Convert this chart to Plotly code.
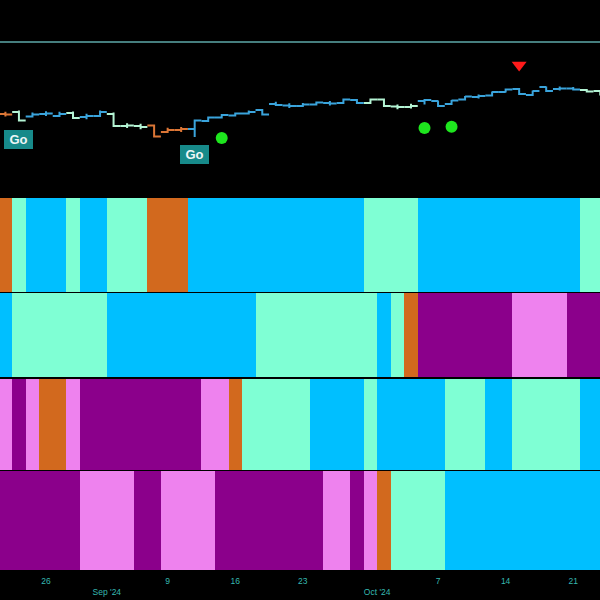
import plotly.graph_objects as go
from plotly.subplots import make_subplots

# ---------------- data ----------------
dates = [
    "2024-08-20", "2024-08-21", "2024-08-22", "2024-08-23",
    "2024-08-26", "2024-08-27", "2024-08-28", "2024-08-29", "2024-08-30",
    "2024-09-03", "2024-09-04", "2024-09-05", "2024-09-06",
    "2024-09-09", "2024-09-10", "2024-09-11", "2024-09-12", "2024-09-13",
    "2024-09-16", "2024-09-17", "2024-09-18", "2024-09-19", "2024-09-20",
    "2024-09-23", "2024-09-24", "2024-09-25", "2024-09-26", "2024-09-27",
    "2024-09-30", "2024-10-01", "2024-10-02", "2024-10-03", "2024-10-04",
    "2024-10-07", "2024-10-08", "2024-10-09", "2024-10-10", "2024-10-11",
    "2024-10-14", "2024-10-15", "2024-10-16", "2024-10-17", "2024-10-18",
    "2024-10-21", "2024-10-22", "2024-10-23",
]
opens = [5631, 5622, 5641, 5598, 5622, 5603, 5631, 5593, 5603,
         5622, 5508, 5508, 5513, 5451, 5470, 5479, 5555, 5589,
         5608, 5627, 5660, 5717, 5703, 5698, 5712, 5726, 5726, 5755,
         5726, 5760, 5693, 5688, 5745, 5745, 5717, 5760, 5783, 5798,
         5831, 5859, 5802, 5878, 5859, 5864, 5850, 5840]
highs = [5651, 5642, 5655, 5637, 5647, 5642, 5645, 5623, 5655,
         5636, 5533, 5528, 5522, 5490, 5499, 5569, 5598, 5622,
         5637, 5655, 5669, 5737, 5723, 5727, 5741, 5746, 5769, 5764,
         5769, 5769, 5713, 5718, 5765, 5750, 5755, 5793, 5808, 5836,
         5864, 5869, 5845, 5883, 5884, 5879, 5860, 5845]
lows = [5602, 5597, 5550, 5588, 5602, 5593, 5574, 5573, 5593,
        5498, 5488, 5478, 5398, 5441, 5450, 5403, 5546, 5579,
        5598, 5617, 5608, 5697, 5678, 5688, 5703, 5702, 5717, 5717,
        5717, 5688, 5668, 5674, 5712, 5688, 5707, 5750, 5768, 5788,
        5826, 5802, 5793, 5831, 5844, 5845, 5826, 5798]
closes = [5622, 5617, 5560, 5617, 5627, 5622, 5584, 5603, 5641,
          5508, 5513, 5498, 5408, 5470, 5479, 5560, 5589, 5612,
          5627, 5641, 5617, 5707, 5698, 5712, 5731, 5722, 5760, 5726,
          5760, 5698, 5688, 5698, 5755, 5698, 5750, 5788, 5793, 5831,
          5855, 5812, 5840, 5840, 5864, 5855, 5836, 5812]

# state codes: O=orange, A=aquamarine, B=blue, V=violet, P=purple
row1_states = list("OOABBBABBAAAOOOBBBBBBBBBBBBBAAAABBBBBBBBBBBBAA")
row2_states = list("BBAAAAAAABBBBBBBBBBBAAAAAAAAABAOPPPPPPPVVVVPPP")
row3_states = list("VVPVOOVPPPPPPPPPVVOAAAAABBBBABBBBBAAABBAAAAABB")
row4_states = list("PPPPPPPVVVVPPVVVVPPPPPPPPVVPVOAAAABBBBBBBBBBBB")

go_dates = ["2024-08-22", "2024-09-11"]
buy_dates = ["2024-09-13", "2024-10-04", "2024-10-08"]
buy_values = [5394, 5489, 5501]
sell_dates = ["2024-10-15"]
sell_values = [6087]

day_tick_dates = ["2024-08-26", "2024-09-09", "2024-09-16", "2024-09-23",
                  "2024-10-07", "2024-10-14", "2024-10-21"]
month_tick_dates = ["2024-09-03", "2024-10-01"]
month_tick_labels = ["Sep '24", "Oct '24"]

# ---------------- styling ----------------
band_colors = {"O": "#D2691E", "A": "#7FFFD4", "B": "#00BFFF",
               "V": "#EE82EE", "P": "#8B008B"}
bar_colors = {"O": "#dc7636", "A": "#b4f4d4", "B": "#3aa4dc"}
codes = {"O": 0, "A": 1, "B": 2, "V": 3, "P": 4}
order = ["O", "A", "B", "V", "P"]
colorscale = []
for k, s in enumerate(order):
    colorscale.append([k / 5, band_colors[s]])
    colorscale.append([(k + 1) / 5, band_colors[s]])

idx = list(range(len(dates)))
pos = {d: i for i, d in enumerate(dates)}

fig = make_subplots(rows=5, cols=1, shared_xaxes=True, vertical_spacing=0.0)

# OHLC bars, one trace per colour group
for s in ["O", "A", "B"]:
    sel = [i for i in idx if row1_states[i] == s]
    fig.add_trace(go.Ohlc(
        x=sel,
        open=[opens[i] for i in sel], high=[highs[i] for i in sel],
        low=[lows[i] for i in sel], close=[closes[i] for i in sel],
        increasing=dict(line=dict(color=bar_colors[s], width=2)),
        decreasing=dict(line=dict(color=bar_colors[s], width=2)),
        tickwidth=0.5, showlegend=False, hoverinfo="skip",
    ), row=1, col=1)

fig.add_trace(go.Scatter(
    x=[pos[d] for d in buy_dates], y=buy_values, mode="markers",
    marker=dict(color="#1ee61e", size=12, symbol="circle"),
    showlegend=False, hoverinfo="skip"), row=1, col=1)
fig.add_trace(go.Scatter(
    x=[pos[d] for d in sell_dates], y=sell_values, mode="markers",
    marker=dict(color="#ff1a1a", size=13, symbol="triangle-down"),
    showlegend=False, hoverinfo="skip"), row=1, col=1)

for d in go_dates:
    i = pos[d]
    fig.add_annotation(
        x=i, y=lows[i], xref="x", yref="y", text="<b>Go</b>",
        showarrow=False, yanchor="top", yshift=-8,
        font=dict(family="Liberation Sans, Arial, sans-serif", size=13, color="#eef6f6"),
        bgcolor="#178a8a", borderpad=2, borderwidth=0, width=25, height=15)

for r, states in enumerate([row1_states, row2_states, row3_states, row4_states], start=2):
    fig.add_trace(go.Heatmap(
        x=idx, y=[0], z=[[codes[s] for s in states]],
        colorscale=colorscale, zmin=-0.5, zmax=4.5, showscale=False,
        hoverinfo="skip"), row=r, col=1)

tickvals = [pos[d] for d in day_tick_dates] + [pos[d] - 0.5 for d in month_tick_dates]
ticktext = [str(int(d[-2:])) for d in day_tick_dates] + ["<br>" + m for m in month_tick_labels]

xr = [0.6, 44.98]
for k in range(1, 6):
    fig.update_xaxes(range=xr, showgrid=False, zeroline=False, showline=False,
                     showticklabels=False, ticks="", rangeslider=dict(visible=False),
                     row=k, col=1)
fig.update_xaxes(showticklabels=True, tickvals=tickvals, ticktext=ticktext,
                 tickfont=dict(family="Liberation Sans, Arial, sans-serif", size=8.5, color="#36b8b0"),
                 ticks="outside", ticklen=3, tickcolor="rgba(0,0,0,0)", row=5, col=1)

doms = [[1 - 197 / 600, 1.0], [1 - 292 / 600, 1 - 198 / 600], [1 - 377 / 600, 1 - 293 / 600],
        [1 - 470 / 600, 1 - 379 / 600], [1 - 570 / 600, 1 - 471 / 600]]
for k in range(1, 6):
    fig.update_yaxes(domain=doms[k - 1], showgrid=False, zeroline=False, showline=False,
                     showticklabels=False, ticks="", row=k, col=1)
fig.update_yaxes(range=[4833.25, 6704.75], row=1, col=1)
for k in range(2, 6):
    fig.update_yaxes(range=[-0.5, 0.5], row=k, col=1)

fig.add_shape(type="line", xref="paper", yref="paper", x0=0, x1=1,
              y0=1 - 42 / 600, y1=1 - 42 / 600, line=dict(color="#5ea9a9", width=1.5))

fig.update_layout(width=600, height=600, margin=dict(l=0, r=0, t=0, b=0),
                  paper_bgcolor="black", plot_bgcolor="black", showlegend=False,
                  dragmode=False)

fig.write_html("out.html", config={"displayModeBar": False},
               post_script="document.body.style.margin='0';document.body.style.background='black';document.body.style.overflow='hidden';")
